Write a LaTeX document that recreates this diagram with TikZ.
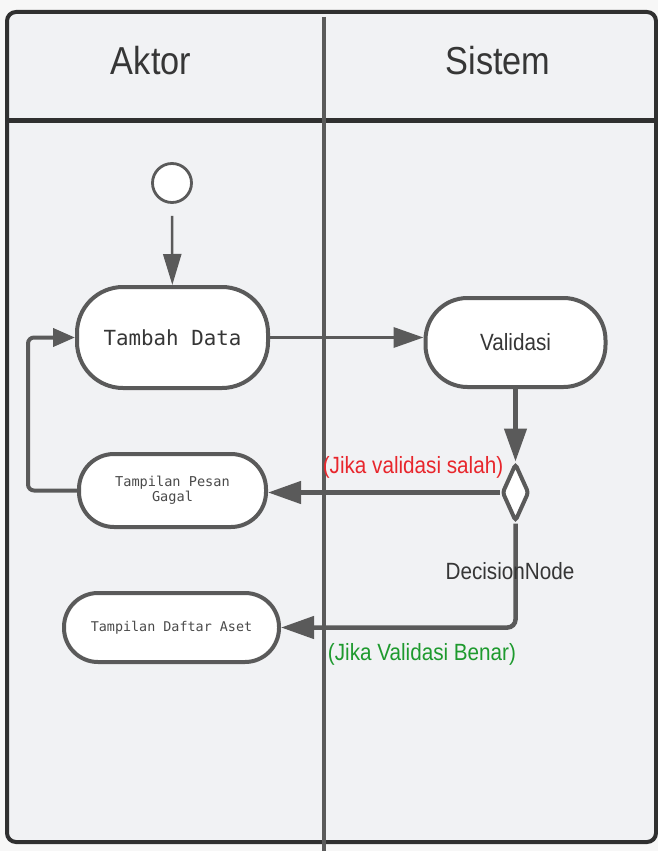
\documentclass[tikz,border=0pt]{standalone}
\usepackage{fontspec}
\usetikzlibrary{arrows.meta,shapes.geometric}
\newfontfamily\lsans[FakeStretch=0.88]{Liberation Sans}
\newfontfamily\lmono{DejaVu Sans Mono}
\definecolor{lc}{HTML}{5A5A5A}
\definecolor{framec}{HTML}{303030}
\definecolor{lanebg}{HTML}{F1F2F4}
\definecolor{outbg}{HTML}{F7F7F7}
\definecolor{txt}{HTML}{363636}
\definecolor{monotxt}{HTML}{4A4A4A}
\definecolor{redc}{HTML}{E8262C}
\definecolor{greenc}{HTML}{1E9A2E}
\tikzset{
  act/.style={draw=lc, fill=white, line width=4pt, inner sep=0pt, text=txt},
  startnode/.style={circle, draw=lc, fill=white, line width=2.8pt, minimum size=39pt, inner sep=0pt},
  decnode/.style={diamond, draw=lc, fill=white, line width=4pt, inner sep=0pt,
    minimum width=27pt, minimum height=58pt, aspect=0.45, rounded corners=3pt},
  flow/.style={draw=lc, line width=4.5pt, -{Triangle[length=33pt,width=22pt]}},
  flowmid/.style={draw=lc, line width=3.5pt, -{Triangle[length=30pt,width=20pt]}},
  flowthin/.style={draw=lc, line width=2.5pt, -{Triangle[length=31pt,width=18pt]}},
  header/.style={text=txt, font=\lsans\fontsize{39}{44}\selectfont},
  lbl/.style={font=\lsans\fontsize{23.5}{26}\selectfont, inner sep=0pt},
}
\begin{document}
\begin{tikzpicture}[x=1pt,y=-1pt]
\useasboundingbox (0,0) rectangle (658,851);
\fill[outbg] (0,0) rectangle (658,851);

% swimlane frame
\draw[framec, line width=4pt, fill=lanebg, rounded corners=9pt] (7,12) rectangle (656,842);
\draw[framec, line width=5pt] (7,120) -- (656,120);
\draw[lc, line width=4pt] (324,17) -- (324,851);
\node[header] (hakt) at (151,61) {Aktor};
\node[header] (hsis) at (498,61) {Sistem};

% activity nodes
\node[startnode] (s) at (172,183) {};
\node[act, minimum width=191pt, minimum height=101pt, rounded corners=46pt,
      font=\lmono\fontsize{20.8}{24}\selectfont] (tambah) at (172.5,337.5) {Tambah Data};
\node[act, minimum width=180pt, minimum height=89pt, rounded corners=42pt,
      font=\lsans\fontsize{23.5}{26}\selectfont] (valid) at (515.5,342.5) {Validasi};
\node[decnode] (dec) at (515.5,492.5) {};
\node[act, minimum width=187pt, minimum height=73pt, rounded corners=35pt, text=monotxt,
      font=\lmono\fontsize{13.6}{14.5}\selectfont, align=center] (gagal) at (172.5,490.5) {Tampilan Pesan\\Gagal};
\node[act, minimum width=215pt, minimum height=69pt, rounded corners=34pt, text=monotxt,
      font=\lmono\fontsize{13.4}{15}\selectfont] (daftar) at (171.5,627.5) {Tampilan Daftar Aset};

% connectors
\draw[flowthin, shorten <=12pt] (s) -- (tambah);
\draw[flowmid] (tambah.east) -- (tambah.east -| valid.west);
\draw[flow] (valid.south) -- (dec.north);
\draw[flow] (dec.west) -- (dec.west -| gagal.east);
\draw[flow, rounded corners=8pt] (dec.south) |- (daftar.east);
\coordinate (lp) at (28,337.5);
\draw[draw=lc, line width=4pt, rounded corners=6pt, -{Triangle[length=22pt,width=18pt]}]
  (gagal.west) -| (lp) -- (tambah.west);

% guard labels
\node[lbl, text=redc] (lfalse) at (413,467) {(Jika validasi salah)};
\node[lbl, text=txt] (ldec) at (510,571) {DecisionNode};
\node[lbl, text=greenc] (ltrue) at (422,654) {(Jika Validasi Benar)};
\end{tikzpicture}
\end{document}
